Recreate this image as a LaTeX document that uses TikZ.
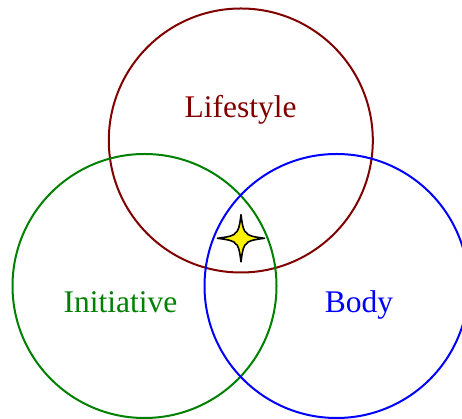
\documentclass[tikz,border=0pt]{standalone}
\usepackage{fontspec}
\setmainfont{Liberation Serif}
\begin{document}
\begin{tikzpicture}[x=1pt,y=1pt,
  ring/.style={circle,draw,line width=2pt,minimum size=264pt,inner sep=0pt},
  lbl/.style={anchor=base,font=\fontsize{31.5}{36}\selectfont,inner sep=0pt}]
\useasboundingbox (0,0) rectangle (462,419);
\clip (0,0) rectangle (462,419);
\node[ring,draw={rgb,255:red,128;green,0;blue,0}] (life) at (240.8,278.5) {};
\node[ring,draw={rgb,255:red,0;green,128;blue,0}] (init) at (144.5,133) {};
\node[ring,draw={rgb,255:red,0;green,0;blue,255}] (body) at (336.5,133) {};
\node[lbl,text={rgb,255:red,128;green,0;blue,0}] (tlife) at (240.5,301.7) {Lifestyle};
\node[lbl,text={rgb,255:red,0;green,128;blue,0}] (tinit) at (120.5,106) {Initiative};
\node[lbl,text={rgb,255:red,0;green,0;blue,255}] (tbody) at (359,106) {Body};
\coordinate (star) at (241,180.7);
\draw[fill=yellow,line width=1.6pt,line join=round,shift={(star)}]
  (0,23.5) .. controls (1.5,11) and (3,6.5) .. (5.5,5.5)
  .. controls (6.5,3) and (11,1.5) .. (23.5,0)
  .. controls (11,-1.5) and (6.5,-3) .. (5.5,-5.5)
  .. controls (3,-6.5) and (1.5,-11) .. (0,-23.5)
  .. controls (-1.5,-11) and (-3,-6.5) .. (-5.5,-5.5)
  .. controls (-6.5,-3) and (-11,-1.5) .. (-23.5,0)
  .. controls (-11,1.5) and (-6.5,3) .. (-5.5,5.5)
  .. controls (-3,6.5) and (-1.5,11) .. cycle;
\end{tikzpicture}
\end{document}
